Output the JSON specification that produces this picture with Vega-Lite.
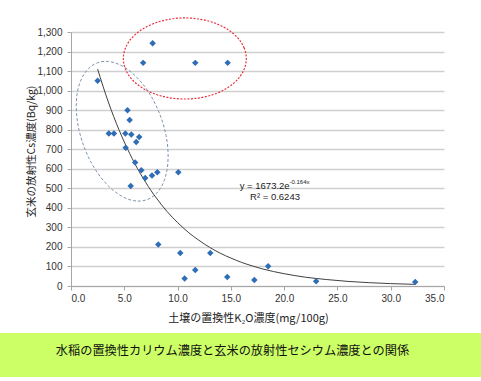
{
  "$schema": "https://vega.github.io/schema/vega-lite/v6.json",
  "background": "white",
  "padding": {"left": 0, "right": 0, "top": 15, "bottom": 5},
  "config": {"view": {"stroke": null}},
  "spacing": 10,
  "datasets": {
    "points": [
      {"x": 2.5, "y": 1050}, {"x": 5.3, "y": 900}, {"x": 5.5, "y": 850}, {"x": 3.55, "y": 780},
      {"x": 4.03, "y": 780}, {"x": 5.1, "y": 780}, {"x": 5.66, "y": 775}, {"x": 6.4, "y": 763},
      {"x": 6.12, "y": 737}, {"x": 5.13, "y": 707}, {"x": 6.02, "y": 632}, {"x": 6.6, "y": 592},
      {"x": 6.96, "y": 553}, {"x": 7.6, "y": 566}, {"x": 8.1, "y": 582}, {"x": 5.6, "y": 512},
      {"x": 10.07, "y": 582}, {"x": 7.66, "y": 1243}, {"x": 6.77, "y": 1142}, {"x": 11.66, "y": 1142},
      {"x": 14.7, "y": 1142}, {"x": 8.19, "y": 212}, {"x": 10.25, "y": 169}, {"x": 13.07, "y": 169},
      {"x": 11.66, "y": 82}, {"x": 10.66, "y": 38}, {"x": 14.66, "y": 46}, {"x": 17.2, "y": 31},
      {"x": 18.5, "y": 101}, {"x": 23.0, "y": 24}, {"x": 32.3, "y": 20}
    ],
    "trend": [
      {"x": 2.5, "y": 1110}, {"x": 3, "y": 1023}, {"x": 3.5, "y": 942}, {"x": 4, "y": 868},
      {"x": 4.5, "y": 800}, {"x": 5, "y": 737}, {"x": 5.5, "y": 679}, {"x": 6, "y": 625},
      {"x": 6.5, "y": 576}, {"x": 7, "y": 531}, {"x": 7.5, "y": 489}, {"x": 8, "y": 451},
      {"x": 9, "y": 382}, {"x": 10, "y": 325}, {"x": 11, "y": 275}, {"x": 12, "y": 234},
      {"x": 13, "y": 198}, {"x": 14, "y": 168}, {"x": 15, "y": 143}, {"x": 16, "y": 121},
      {"x": 17, "y": 103}, {"x": 18, "y": 87}, {"x": 19, "y": 74}, {"x": 20, "y": 63},
      {"x": 22, "y": 45}, {"x": 24, "y": 33}, {"x": 26, "y": 23.5}, {"x": 28, "y": 17},
      {"x": 30, "y": 12.2}, {"x": 32.3, "y": 8.4}
    ],
    "redEllipse": [
      {"i": 0, "x": 16.45, "y": 1164}, {"i": 1, "x": 16.25, "y": 1218}, {"i": 2, "x": 15.68, "y": 1268},
      {"i": 3, "x": 14.76, "y": 1311}, {"i": 4, "x": 13.57, "y": 1344}, {"i": 5, "x": 12.17, "y": 1365},
      {"i": 6, "x": 10.68, "y": 1372}, {"i": 7, "x": 9.19, "y": 1365}, {"i": 8, "x": 7.8, "y": 1344},
      {"i": 9, "x": 6.6, "y": 1311}, {"i": 10, "x": 5.68, "y": 1268}, {"i": 11, "x": 5.11, "y": 1218},
      {"i": 12, "x": 4.91, "y": 1164}, {"i": 13, "x": 5.11, "y": 1110}, {"i": 14, "x": 5.68, "y": 1060},
      {"i": 15, "x": 6.6, "y": 1017}, {"i": 16, "x": 7.8, "y": 984}, {"i": 17, "x": 9.19, "y": 964},
      {"i": 18, "x": 10.68, "y": 957}, {"i": 19, "x": 12.17, "y": 964}, {"i": 20, "x": 13.57, "y": 984},
      {"i": 21, "x": 14.76, "y": 1017}, {"i": 22, "x": 15.68, "y": 1060}, {"i": 23, "x": 16.25, "y": 1110}
    ],
    "grayEllipse": [
      {"i": 0, "x": 7.12, "y": 441.6}, {"i": 1, "x": 6.1, "y": 435.1}, {"i": 2, "x": 4.99, "y": 452.9},
      {"i": 3, "x": 3.87, "y": 493.8}, {"i": 4, "x": 2.81, "y": 555.1}, {"i": 5, "x": 1.89, "y": 632.5},
      {"i": 6, "x": 1.17, "y": 720.8}, {"i": 7, "x": 0.69, "y": 813.9}, {"i": 8, "x": 0.5, "y": 905.6},
      {"i": 9, "x": 0.59, "y": 989.5}, {"i": 10, "x": 0.98, "y": 1059.9}, {"i": 11, "x": 1.63, "y": 1112.2},
      {"i": 12, "x": 2.49, "y": 1142.6}, {"i": 13, "x": 3.51, "y": 1149.1}, {"i": 14, "x": 4.62, "y": 1131.3},
      {"i": 15, "x": 5.74, "y": 1090.3}, {"i": 16, "x": 6.8, "y": 1029.1}, {"i": 17, "x": 7.72, "y": 951.6},
      {"i": 18, "x": 8.44, "y": 863.4}, {"i": 19, "x": 8.92, "y": 770.2}, {"i": 20, "x": 9.11, "y": 678.5},
      {"i": 21, "x": 9.01, "y": 594.6}, {"i": 22, "x": 8.63, "y": 524.2}, {"i": 23, "x": 7.98, "y": 472.0}
    ],
    "eq": [{"x": 15.83, "y": 514, "label": "y = 1673.2e"}],
    "eqSup": [{"x": 20.5, "y": 533, "label": "-0.164x"}],
    "r2": [{"x": 16.8, "y": 453, "label": "R² = 0.6243"}],
    "caption": [{"t": "水稲の置換性カリウム濃度と玄米の放射性セシウム濃度との関係"}],
    "empty": []
  },
  "vconcat": [
    {
      "spacing": 0,
      "hconcat": [
        {
          "width": 26,
          "height": 254,
          "data": {"name": "empty"},
          "mark": {"type": "point"},
          "encoding": {}
        },
        {
          "width": 373,
          "height": 254,
          "encoding": {
            "x": {
              "field": "x", "type": "quantitative",
              "scale": {"domain": [0, 35], "nice": false},
              "axis": {
                "title": "土壌の置換性K₂O濃度(mg/100g)",
                "values": [0, 5, 10, 15, 20, 25, 30, 35],
                "format": ".1f",
                "grid": false,
                "domainColor": "#a6a6a6", "tickColor": "#a6a6a6", "tickSize": 4,
                "labelPadding": 3, "labelFont": "Liberation Sans", "labelFontSize": 10, "labelColor": "#333333",
                "titleFont": "Noto Sans CJK JP", "titleFontSize": 11, "titleFontWeight": "normal", "titleColor": "#222222",
                "titlePadding": 9, "titleX": 177
              }
            },
            "y": {
              "field": "y", "type": "quantitative",
              "scale": {"domain": [0, 1300], "nice": false},
              "axis": {
                "title": "玄米の放射性Cs濃度(Bq/kg)",
                "values": [0, 100, 200, 300, 400, 500, 600, 700, 800, 900, 1000, 1100, 1200, 1300],
                "format": ",.0f",
                "grid": true, "gridColor": "#cfcfcf", "gridWidth": 1.3,
                "domainColor": "#a6a6a6", "tickColor": "#a6a6a6", "tickSize": 4,
                "labelPadding": 5, "labelFont": "Liberation Sans", "labelFontSize": 10, "labelColor": "#333333",
                "titleFont": "Noto Sans CJK JP", "titleFontSize": 10.5, "titleFontWeight": "normal", "titleColor": "#222222",
                "titleX": -40, "titleY": 119, "titleBaseline": "middle"
              }
            }
          },
          "layer": [
            {
              "data": {"name": "redEllipse"},
              "mark": {"type": "line", "interpolate": "cardinal-closed", "clip": false, "color": "#e8303a", "strokeWidth": 1.2, "strokeDash": [2, 1.5]},
              "encoding": {"order": {"field": "i", "type": "quantitative"}}
            },
            {
              "data": {"name": "grayEllipse"},
              "mark": {"type": "line", "interpolate": "cardinal-closed", "clip": false, "color": "#7f93ad", "strokeWidth": 1, "strokeDash": [3, 2]},
              "encoding": {"order": {"field": "i", "type": "quantitative"}}
            },
            {
              "data": {"name": "trend"},
              "mark": {"type": "line", "interpolate": "monotone", "color": "#404040", "strokeWidth": 1},
              "encoding": {}
            },
            {
              "data": {"name": "points"},
              "mark": {"type": "point", "shape": "diamond", "filled": true, "size": 42, "color": "#2f6db5", "opacity": 1},
              "encoding": {}
            },
            {
              "data": {"name": "eq"},
              "mark": {"type": "text", "align": "left", "baseline": "middle", "font": "Liberation Sans", "fontSize": 9.5, "color": "#222222"},
              "encoding": {"text": {"field": "label"}}
            },
            {
              "data": {"name": "eqSup"},
              "mark": {"type": "text", "align": "left", "baseline": "middle", "font": "Liberation Sans", "fontSize": 6, "color": "#222222"},
              "encoding": {"text": {"field": "label"}}
            },
            {
              "data": {"name": "r2"},
              "mark": {"type": "text", "align": "left", "baseline": "middle", "font": "Liberation Sans", "fontSize": 9.5, "color": "#222222"},
              "encoding": {"text": {"field": "label"}}
            }
          ]
        }
      ]
    },
    {
      "width": 481,
      "height": 44,
      "view": {"fill": "#ccff66", "stroke": null},
      "data": {"name": "caption"},
      "mark": {"type": "text", "font": "Noto Sans CJK JP", "fontSize": 12.2, "color": "#111111", "dx": -8, "dy": -4},
      "encoding": {"text": {"field": "t"}}
    }
  ]
}
